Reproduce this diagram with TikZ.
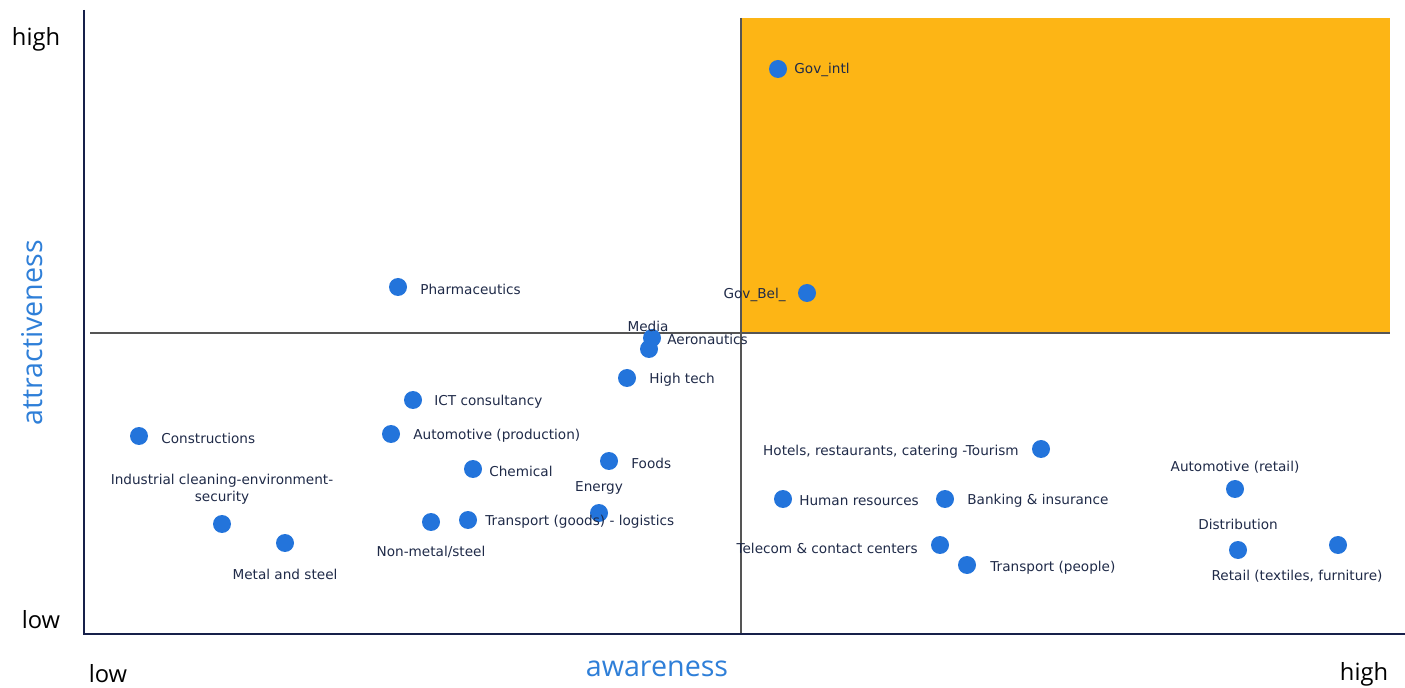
\documentclass[tikz,border=0pt]{standalone}
\usepackage{fontspec}
\setmainfont{DejaVu Sans}
\newfontfamily\axfont{Open Sans}
\definecolor{dotblue}{HTML}{2374DB}
\definecolor{labnavy}{HTML}{1F2A48}
\definecolor{axnavy}{HTML}{16204A}
\definecolor{quadorange}{HTML}{FDB515}
\definecolor{axblue}{HTML}{2F7FD8}
\definecolor{divgray}{HTML}{555555}
\begin{document}
\begin{tikzpicture}[x=0.02cm,y=-0.02cm,
  dot/.style={circle,fill=dotblue,inner sep=0pt,minimum size=0.36cm},
  lab/.style={inner sep=0pt,text=labnavy,font=\fontsize{7.75}{9.7}\selectfont},
  tick/.style={inner sep=0pt,text=black,font=\axfont\fontsize{13.5}{16}\selectfont},
  axtitle/.style={inner sep=0pt,text=axblue,font=\axfont\fontsize{16.3}{19}\selectfont}]
\useasboundingbox (0,0) rectangle (1405,688);
% quadrant
\fill[quadorange] (741,18) rectangle (1390,333);
\draw[divgray,line width=0.6pt] (90,333) -- (1390,333);
\draw[divgray,line width=0.6pt] (741,18) -- (741,634);
% axes
\coordinate (ytop) at (84,10);
\coordinate (origin) at (84,634);
\coordinate (xend) at (1405,634);
\draw[axnavy,line width=1.2pt] (ytop) -- (origin) -- (xend);
% axis texts
\node[tick] (yhigh) at (36,39) {high};
\node[tick] (ylow) at (41,620) {low};
\node[tick] (xlow) at (108,674) {low};
\node[tick] (xhigh) at (1364,674) {high};
\node[axtitle] (xtitle) at (657,669) {awareness};
\node[axtitle,rotate=90] (ytitle) at (32,333) {attractiveness};
% points
\node[dot] (govintl) at (778,69) {};
\node[lab,anchor=west] (govintlL) at (794,70) {Gov\_intl};
\node[dot] (pharma) at (398,287) {};
\node[lab,anchor=west] (pharmaL) at (420,289) {Pharmaceutics};
\node[dot] (govbel) at (807,293) {};
\node[lab,anchor=east] (govbelL) at (786,295) {Gov\_Bel\_};
\node[dot] (media) at (652,338) {};
\node[lab] (mediaL) at (648,326) {Media};
\node[dot] (aero) at (649,349) {};
\node[lab,anchor=west] (aeroL) at (667,339) {Aeronautics};
\node[dot] (hightech) at (627,378) {};
\node[lab,anchor=west] (hightechL) at (649,380) {High tech};
\node[dot] (ict) at (413,400) {};
\node[lab,anchor=west] (ictL) at (434,402) {ICT consultancy};
\node[dot] (constr) at (139,436) {};
\node[lab,anchor=west] (constrL) at (161,438) {Constructions};
\node[dot] (autoprod) at (391,434) {};
\node[lab,anchor=west] (autoprodL) at (413,436) {Automotive (production)};
\node[dot] (chem) at (473,469) {};
\node[lab,anchor=west] (chemL) at (489,471) {Chemical};
\node[dot] (foods) at (609,461) {};
\node[lab,anchor=west] (foodsL) at (631,463) {Foods};
\node[dot] (energy) at (599,513) {};
\node[lab] (energyL) at (599,488) {Energy};
\node[dot] (transgoods) at (468,520) {};
\node[lab,anchor=west] (transgoodsL) at (485,522) {Transport (goods) - logistics};
\node[dot] (nonmetal) at (431,522) {};
\node[lab] (nonmetalL) at (431,552) {Non-metal/steel};
\node[dot] (indclean) at (222,524) {};
\node[lab,align=center] (indcleanL) at (222,489) {Industrial cleaning-environment-\\security};
\node[dot] (metal) at (285,543) {};
\node[lab] (metalL) at (285,574) {Metal and steel};
\node[dot] (hotels) at (1041,449) {};
\node[lab,anchor=east] (hotelsL) at (1019,452) {Hotels, restaurants, catering -Tourism};
\node[dot] (hr) at (783,499) {};
\node[lab,anchor=west] (hrL) at (799,501) {Human resources};
\node[dot] (bank) at (945,499) {};
\node[lab,anchor=west] (bankL) at (967,501) {Banking \& insurance};
\node[dot] (telecom) at (940,545) {};
\node[lab,anchor=east] (telecomL) at (918,548) {Telecom \& contact centers};
\node[dot] (transpeople) at (967,565) {};
\node[lab,anchor=west] (transpeopleL) at (990,568) {Transport (people)};
\node[dot] (autoretail) at (1235,489) {};
\node[lab] (autoretailL) at (1235,467) {Automotive (retail)};
\node[dot] (distr) at (1238,550) {};
\node[lab] (distrL) at (1238,524) {Distribution};
\node[dot] (retail) at (1338,545) {};
\node[lab] (retailL) at (1297,576) {Retail (textiles, furniture)};
\end{tikzpicture}
\end{document}
